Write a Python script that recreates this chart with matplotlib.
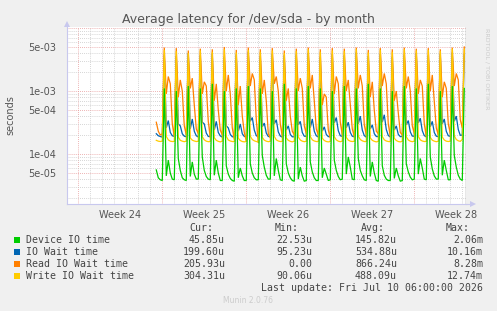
import numpy as np
import matplotlib
matplotlib.use("Agg")
import matplotlib.pyplot as plt
from matplotlib.patches import Rectangle, Polygon

# ---------------- data ----------------
title = "Average latency for /dev/sda - by month"
week_labels = ["Week 24", "Week 25", "Week 26", "Week 27", "Week 28"]
week_starts = [0, 7, 14, 21, 28]          # days (week boundaries)
ytick_vals = [5e-3, 1e-3, 5e-4, 1e-4, 5e-5]
ytick_labels = ["5e-03", "1e-03", "5e-04", "1e-04", "5e-05"]

t_start = 6.5          # first sample, in days
t_step = 1.0 / 6.0     # 4-hour samples

# values in microseconds, one row per day (00h,04h,08h,12h,16h,20h)
device_us = [
    56, 42, 39,
    38, 1100, 45, 80, 50, 40,
    39, 1000, 85, 55, 42, 39,
    38, 1200, 44, 75, 48, 40,
    40, 1100, 90, 55, 44, 40,
    39, 1300, 46, 80, 50, 38,
    38, 1000, 65, 48, 41, 38,
    37, 1100, 42, 60, 45, 38,
    38, 1200, 70, 50, 42, 39,
    39, 1100, 95, 62, 46, 40,
    40, 1000, 45, 85, 55, 39,
    38, 1300, 70, 50, 42, 38,
    37, 1100, 40, 62, 45, 37,
    38, 1200, 75, 52, 42, 38,
    38, 1100, 42, 60, 48, 38,
    39, 1000, 80, 55, 44, 39,
    40, 1200, 48, 90, 62, 40,
    39, 1100, 85, 55, 45, 39,
    38, 1300, 44, 75, 50, 38,
    37, 1100, 65, 46, 40, 38,
    38, 1000, 41, 60, 45, 37,
    38, 1200, 70, 52, 43, 39,
    40, 1100, 48, 85, 60, 40,
    39, 1300, 90, 58, 45, 40,
    40, 1000, 46, 80, 55, 39,
    39, 1200, 95, 62, 46, 40,
    38, 1100,
]
iowait_us = [
    210, 195, 190,
    185, 3800, 260, 340, 220, 195,
    190, 3600, 300, 280, 210, 192,
    188, 4000, 250, 360, 230, 195,
    186, 3700, 320, 300, 215, 190,
    190, 3900, 240, 330, 220, 194,
    185, 3500, 280, 260, 205, 188,
    187, 3800, 230, 300, 210, 190,
    190, 4200, 330, 380, 240, 196,
    186, 3600, 270, 310, 215, 190,
    188, 3900, 300, 350, 225, 193,
    185, 3700, 240, 280, 205, 188,
    187, 3800, 290, 330, 220, 192,
    190, 4000, 260, 360, 230, 195,
    186, 3500, 230, 270, 205, 189,
    188, 3900, 310, 380, 235, 195,
    190, 3700, 260, 320, 220, 192,
    187, 4100, 300, 400, 240, 196,
    185, 3600, 250, 290, 210, 190,
    188, 3900, 320, 420, 245, 197,
    186, 3500, 240, 280, 205, 189,
    189, 3800, 290, 340, 225, 193,
    190, 4000, 310, 370, 235, 196,
    187, 3700, 270, 330, 220, 192,
    188, 3900, 300, 360, 230, 195,
    190, 4100, 330, 400, 245, 198,
    200, 3800,
]
read_us = [
    320, 230, 200,
    210, 4900, 900, 1700, 1300, 300,
    190, 4800, 800, 1500, 1000, 280,
    200, 4400, 1100, 1600, 600, 250,
    210, 4700, 900, 1400, 1200, 330,
    180, 4600, 700, 1300, 500, 240,
    200, 5000, 1000, 1800, 900, 260,
    170, 4500, 600, 1200, 400, 220,
    160, 4900, 1200, 1900, 1500, 350,
    150, 4600, 900, 1500, 700, 210,
    180, 4800, 1300, 1700, 1000, 300,
    190, 4400, 700, 1100, 400, 230,
    200, 4700, 1000, 1600, 1100, 280,
    210, 4900, 1100, 1800, 700, 250,
    200, 4600, 600, 900, 800, 240,
    180, 4800, 900, 1700, 1300, 320,
    200, 4700, 1000, 1500, 600, 250,
    190, 4900, 1100, 1800, 1200, 290,
    200, 4500, 800, 1400, 500, 230,
    210, 4800, 1200, 1900, 1300, 300,
    190, 4600, 700, 1000, 450, 220,
    200, 4900, 1100, 1700, 1000, 280,
    210, 4700, 900, 1500, 1200, 300,
    190, 4800, 1000, 1800, 700, 260,
    200, 4600, 800, 1400, 1100, 300,
    210, 4900, 1200, 1900, 1500, 350,
    260, 5000,
]
write_us = [
    165, 160, 158,
    160, 4500, 190, 168, 160, 158,
    158, 4300, 185, 165, 160, 157,
    160, 4000, 180, 166, 161, 158,
    159, 4400, 188, 168, 160, 157,
    158, 4200, 182, 165, 159, 156,
    160, 4600, 190, 167, 161, 158,
    157, 4100, 178, 164, 158, 156,
    158, 4500, 192, 170, 162, 158,
    156, 4200, 184, 166, 160, 157,
    159, 4400, 190, 168, 161, 158,
    158, 4000, 180, 165, 159, 156,
    160, 4300, 186, 167, 160, 157,
    159, 4600, 190, 168, 161, 158,
    157, 4200, 178, 164, 158, 156,
    158, 4400, 188, 168, 160, 157,
    160, 4300, 184, 166, 160, 158,
    159, 4600, 192, 170, 162, 158,
    157, 4100, 180, 165, 159, 156,
    158, 4500, 190, 168, 161, 158,
    157, 4200, 178, 164, 158, 156,
    159, 4600, 188, 167, 160, 157,
    160, 4400, 190, 168, 161, 158,
    158, 4500, 184, 166, 160, 157,
    159, 4300, 186, 167, 160, 158,
    160, 4700, 194, 170, 162, 159,
    170, 4600,
]

series_names = ["Device IO time", "IO Wait time", "Read IO Wait time", "Write IO Wait time"]
colors = ["#00CC00", "#0066B3", "#FF8000", "#FFCC00"]
cur_vals = ["45.85u", "199.60u", "205.93u", "304.31u"]
min_vals = ["22.53u", "95.23u", "0.00", "90.06u"]
avg_vals = ["145.82u", "534.88u", "866.24u", "488.09u"]
max_vals = ["2.06m", "10.16m", "8.28m", "12.74m"]
last_update = "Last update: Fri Jul 10 06:00:00 2026"

# ---------------- figure ----------------
W, H = 497, 311
fig = plt.figure(figsize=(W / 100, H / 100), dpi=100, facecolor="#F0F0F0")

L, R, T, B = 67, 466, 27, 204
ax = fig.add_axes([L / W, 1 - B / H, (R - L) / W, (B - T) / H])
ax.set_facecolor("white")
ax.set_yscale("log")
ax.set_xlim(-0.94, 32.31)
ax.set_ylim(1.61e-5, 1.038e-2)

# grid
minor_c = "#C8C8C8"
major_c = "#E89A9A"
dot = (0, (1, 1.5))
for d in range(0, 33):
    if d in week_starts:
        continue
    ax.axvline(d, color=minor_c, lw=0.6, ls=dot, zorder=0)
for d in week_starts:
    ax.axvline(d, color=major_c, lw=0.6, ls=dot, zorder=0)
for e in (-5, -4, -3, -2):
    for k in range(1, 10):
        v = k * 10.0 ** e
        if k in (1, 5):
            ax.axhline(v, color=major_c, lw=0.6, ls=dot, zorder=0)
        else:
            ax.axhline(v, color=minor_c, lw=0.6, ls=dot, zorder=0)

# series
n = len(device_us)
t = t_start + np.arange(n) * t_step
data = [device_us, iowait_us, read_us, write_us]
zorders = [5, 2, 3, 4]
for vals, c, z in zip(data, colors, zorders):
    ax.plot(t, np.array(vals) * 1e-6, color=c, lw=0.9, zorder=z, solid_joinstyle="miter")

# right "now" line
ax.axvline(32.31, color="#888888", lw=1.0, zorder=6)

# ticks
ax.set_yticks(ytick_vals)
ax.set_yticklabels(ytick_labels)
ax.yaxis.set_minor_locator(matplotlib.ticker.NullLocator())
ax.set_xticks([w + 3.5 for w in week_starts])
ax.set_xticklabels(week_labels)
ax.tick_params(axis="both", length=0, labelsize=7, labelcolor="#555555")
ax.tick_params(axis="y", pad=7.5)
ax.tick_params(axis="x", pad=4)

for s in ("top", "right"):
    ax.spines[s].set_visible(False)
axis_c = "#C8C8EE"
ax.spines["left"].set_color(axis_c)
ax.spines["bottom"].set_color(axis_c)
ax.spines["left"].set_linewidth(0.8)
ax.spines["bottom"].set_linewidth(0.8)

# arrows
def px(x, y):
    return (x / W, 1 - y / H)
fig.patches.append(Polygon([px(64, 27), px(70, 27), px(67, 21)], closed=True,
                           transform=fig.transFigure, color=axis_c, lw=0))
fig.patches.append(Polygon([px(470, 201), px(470, 207), px(476, 204)], closed=True,
                           transform=fig.transFigure, color=axis_c, lw=0))
fig.add_artist(plt.Line2D([466 / W, 470 / W], [1 - 204 / H] * 2, color=axis_c, lw=0.8,
                          transform=fig.transFigure))

# title & labels
fig.text(248 / W, 1 - 19 / H, title, ha="center", va="center", fontsize=9, color="#555555")
fig.text(10 / W, 1 - 115 / H, "seconds", rotation=90, ha="center", va="center",
         fontsize=7, color="#555555")
fig.text(487 / W, 1 - 28 / H, "RRDTOOL / TOBI OETIKER", rotation=270, ha="center", va="top",
         fontsize=4.6, color="#CCCCCC")

# legend
mono = "DejaVu Sans Mono"
fs = 7.1
tc = "#444444"
hdr_y = 228
for lbl, xr in zip(["Cur:", "Min:", "Avg:", "Max:"], [213, 299, 385, 470]):
    fig.text(xr / W, 1 - hdr_y / H, lbl, ha="right", va="center", fontsize=fs,
             family=mono, color=tc)
for i, (name, c) in enumerate(zip(series_names, colors)):
    y = 240 + 12 * i
    fig.patches.append(Rectangle(px(14, y + 2.5), 5.5 / W, 5.5 / H, transform=fig.transFigure,
                                 color=c, lw=0))
    fig.text(26 / W, 1 - y / H, name, ha="left", va="center", fontsize=fs, family=mono, color=tc)
    for v, xr in zip([cur_vals[i], min_vals[i], avg_vals[i], max_vals[i]], [225, 312, 397, 483]):
        fig.text(xr / W, 1 - y / H, v, ha="right", va="center", fontsize=fs, family=mono, color=tc)
fig.text(483 / W, 1 - 288 / H, last_update, ha="right", va="center", fontsize=fs,
         family=mono, color=tc)
fig.text(248 / W, 1 - 300.5 / H, "Munin 2.0.76", ha="center", va="center", fontsize=5.5,
         color="#CCCCCC")

fig.savefig("out.png", dpi=100, facecolor=fig.get_facecolor())
